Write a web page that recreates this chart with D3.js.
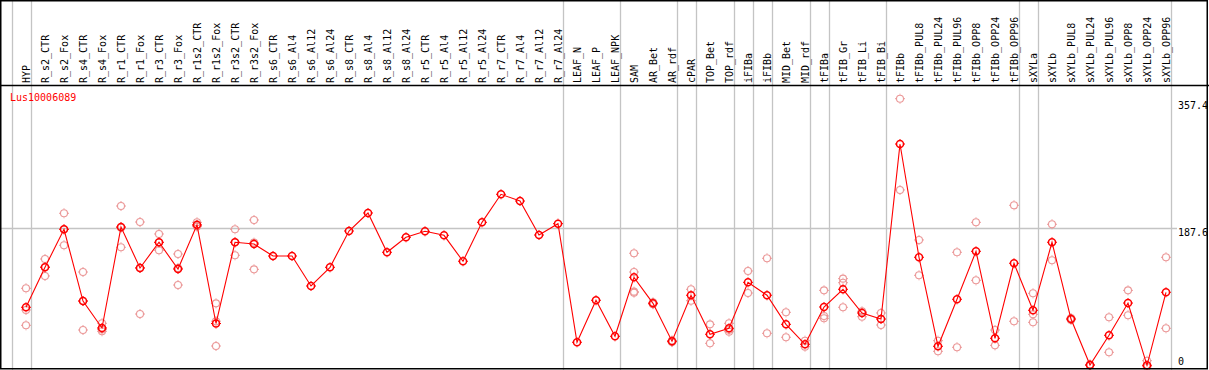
<!DOCTYPE html>
<html>
<head>
<meta charset="utf-8">
<script src="https://cdn.jsdelivr.net/npm/d3@7"></script>
<style>
  body { margin: 0; background: #fff; }
  svg { display: block; }
  text { font-family: "DejaVu Sans Mono", monospace; font-size: 10px; }
</style>
</head>
<body>
<div id="chart"></div>
<script>
var categories = ['HYP', 'R_s2_CTR', 'R_s2_Fox', 'R_s4_CTR', 'R_s4_Fox', 'R_r1_CTR', 'R_r1_Fox',
    'R_r3_CTR', 'R_r3_Fox', 'R_r1s2_CTR', 'R_r1s2_Fox', 'R_r3s2_CTR', 'R_r3s2_Fox',
    'R_s6_CTR', 'R_s6_Al4', 'R_s6_Al12', 'R_s6_Al24', 'R_s8_CTR', 'R_s8_Al4', 'R_s8_Al12', 'R_s8_Al24',
    'R_r5_CTR', 'R_r5_Al4', 'R_r5_Al12', 'R_r5_Al24', 'R_r7_CTR', 'R_r7_Al4', 'R_r7_Al12', 'R_r7_Al24',
    'LEAF_N', 'LEAF_P', 'LEAF_NPK', 'SAM', 'AR_Bet', 'AR_rdf', 'cPAR', 'TOP_Bet', 'TOP_rdf',
    'iFIBa', 'iFIBb', 'MID_Bet', 'MID_rdf', 'tFIBa', 'tFIB_Gr', 'tFIB_Li', 'tFIB_Bi',
    'tFIBb', 'tFIBb_PUL8', 'tFIBb_PUL24', 'tFIBb_PUL96', 'tFIBb_OPP8', 'tFIBb_OPP24', 'tFIBb_OPP96',
    'sXYLa', 'sXYLb', 'sXYLb_PUL8', 'sXYLb_PUL24', 'sXYLb_PUL96', 'sXYLb_OPP8', 'sXYLb_OPP24', 'sXYLb_OPP96'
];

var means = [81.9, 135.4, 186.3, 90.3, 54.2, 189.3, 134.5, 168.9, 133.1, 192.2, 60.2, 168.9, 166.6,
    150.5, 150.5, 110.4, 135.4, 184.0, 208.1, 155.5, 175.6, 183.6, 178.2, 143.5, 195.6,
    233.1, 224.1, 178.6, 193.8, 35.1, 91.3, 43.1, 122.0, 87.2, 36.4, 98.0, 45.8, 53.8,
    115.3, 98.0, 59.1, 32.4, 82.3, 106.0, 74.3, 66.2, 300.4, 148.8, 29.7, 92.6, 156.8, 40.4, 140.8,
    77.9, 168.9, 66.2, 4.7, 44.4, 87.6, 4.3, 102.0
];

var replicates = [
    [107.3, 78.3, 57.8], [146.5, 123.8, 135.9], [207.7, 164.9, 186.3], [129.1, 51.5, 90.3],
    [60.5, 49.8, 52.3], [217.4, 162.2, 188.3], [196.0, 72.9, 134.6], [180.0, 158.2, 168.5],
    [153.2, 111.7, 134.4], [195.6, 191.1, 189.9], [87.2, 30.1, 63.3], [186.3, 151.5, 168.9],
    [198.7, 132.7, 168.4],
    [], [], [], [], [], [], [], [], [], [], [], [], [], [], [], [], [], [], [],
    [154.2, 129.1, 102.8, 101.5], [88.5, 86.0], [37.5, 35.3], [106.0, 90.7], [59.1, 33.7],
    [60.5, 49.2, 51.7], [130.5, 101.0], [147.5, 47.1], [75.2, 41.8], [37.2, 29.2],
    [104.6, 70.3, 67.2], [120.2, 114.8, 81.9], [76.5, 69.3], [74.3, 58.2],
    [361.0, 238.9], [172.0, 124.7], [37.2, 23.0], [155.5, 28.4], [195.6, 118.0], [51.5, 31.0],
    [218.4, 63.2], [100.6, 72.5, 61.8], [193.0, 144.8], [67.5, 65.0], [5.5, 4.0],
    [68.5, 21.7], [104.6, 71.2], [10.4, 2.4], [148.8, 53.8]
];

var separators = ['HYP', 'R_r7_Al24', 'LEAF_NPK', 'AR_rdf', 'cPAR', 'TOP_rdf', 'iFIBa', 'iFIBb',
    'MID_rdf', 'tFIBa', 'tFIB_Bi', 'tFIBb_OPP96', 'sXYLa', 'sXYLb_OPP96'];

var yTicks = [0, 187.6, 357.4];
var geneName = 'Lus10006089';

var width = 1209,
    height = 370,
    headerBottom = 85.5,
    plotRight = 1177;

var xScale = d3.scalePoint()
    .domain(categories)
    .range([26, 1166])

var yScale = d3.scaleLinear()
    .domain([0, 187.6])
    .range([368.5, 228.3])

var svg = d3.select('#chart').append('svg')
    .attr('width', width)
    .attr('height', height)

// group separators
var sepX = [xScale('HYP') - xScale.step()].concat(separators.map(function (d) {
    return xScale(d);
}))
svg.selectAll('.sep').data(sepX)
    .enter().append('line')
    .attr('x1', function (d) { return Math.round(d + 4.5) + 0.5; })
    .attr('x2', function (d) { return Math.round(d + 4.5) + 0.5; })
    .attr('y1', 0)
    .attr('y2', height)
    .style('stroke', '#c4c4c4')
    .style('stroke-width', 1.3)

// horizontal guide
svg.append('line')
    .attr('x1', 1)
    .attr('x2', plotRight)
    .attr('y1', Math.round(yScale(187.6)) + 0.5)
    .attr('y2', Math.round(yScale(187.6)) + 0.5)
    .style('stroke', '#c4c4c4')
    .style('stroke-width', 1.3)

// header labels
svg.selectAll('.lbl').data(categories)
    .enter().append('text')
    .attr('transform', function (d) {
        return 'translate(' + (xScale(d) + 3.5) + ',' + 83 + ') rotate(-90)';
    })
    .style('fill', '#000')
    .text(function (d) { return d; })

svg.append('line')
    .attr('x1', 0).attr('x2', width)
    .attr('y1', headerBottom).attr('y2', headerBottom)
    .style('stroke', '#000')
    .style('stroke-width', 1.3)

svg.append('text')
    .attr('x', 10)
    .attr('y', 100.5)
    .style('fill', '#ff0000')
    .text(geneName)

// y labels
svg.selectAll('.ytick').data(yTicks)
    .enter().append('text')
    .attr('x', 1178)
    .attr('y', function (d) { return Math.min(yScale(d) + 8, 365); })
    .style('fill', '#000')
    .text(function (d) { return d; })

// replicate points
var repData = [];
replicates.forEach(function (vals, i) {
    vals.forEach(function (v) {
        repData.push({ cat: categories[i], value: v });
    });
});

function marker(sel, color, sw) {
    sel.append('circle')
        .attr('r', 3.5)
        .style('fill', 'none')
        .style('stroke', color)
        .style('stroke-width', sw)
    sel.append('path')
        .attr('d', 'M0,-5V-4M0,4V5M-5,0H-4M4,0H5')
        .style('stroke', color)
        .style('stroke-width', 1)
}

svg.selectAll('.rep').data(repData)
    .enter().append('g')
    .attr('transform', function (d) {
        return 'translate(' + xScale(d.cat) + ',' + yScale(d.value) + ')';
    })
    .call(marker, '#eb9898', 1.1)

// mean line
var line = d3.line()
    .x(function (d, i) { return xScale(categories[i]); })
    .y(function (d) { return yScale(d); })

svg.append('path')
    .datum(means)
    .attr('d', line)
    .style('fill', 'none')
    .style('stroke', '#ff0000')
    .style('stroke-width', 1.1)

svg.selectAll('.mean').data(means)
    .enter().append('g')
    .attr('transform', function (d, i) {
        return 'translate(' + xScale(categories[i]) + ',' + yScale(d) + ')';
    })
    .call(marker, '#ff0000', 1.5)

// frame
svg.append('rect')
    .attr('x', 0.75)
    .attr('y', 0.75)
    .attr('width', 1206.5)
    .attr('height', 368)
    .style('fill', 'none')
    .style('stroke', '#000')
    .style('stroke-width', 1.5)
</script>
</body>
</html>
